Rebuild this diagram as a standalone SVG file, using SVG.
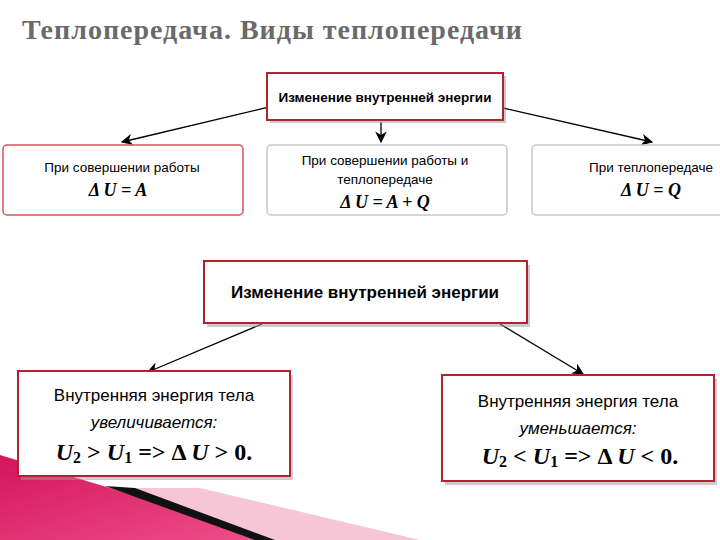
<svg xmlns="http://www.w3.org/2000/svg" width="720" height="540" viewBox="0 0 720 540">
<defs>
<style>
.b{fill:#fff;stroke:#b0232f;stroke-width:2}
.g{fill:#fff;stroke:#c8c8c8;stroke-width:1.5}
.s{fill:#999;opacity:.5}
.t{font-family:"Liberation Sans",Arial,sans-serif;fill:#000;text-anchor:middle}
.f{font-family:"Liberation Serif","Times New Roman",serif;font-weight:bold;font-style:italic;text-anchor:middle}
.n{font-style:normal}
.c{stroke:#000;stroke-width:1.3;fill:none;marker-end:url(#a)}
</style>
<marker id="a" viewBox="0 0 10 10" refX="9" refY="5" markerWidth="9" markerHeight="9" orient="auto"><path d="M0,0 L10,5 L0,10 L3,5 Z" fill="#000"/></marker>
<linearGradient id="pk" x1="0" y1="0" x2="1" y2="1"><stop offset="0" stop-color="#d4145a"/><stop offset="1" stop-color="#ee4f8a"/></linearGradient>
</defs>
<rect width="720" height="540" fill="#fff"/>
<polygon points="120,488 200,488 420,540 260,540" fill="#f7c6d6"/>
<polygon points="0,455 110,488 270,540 0,540" fill="url(#pk)"/>
<polygon points="105,486 135,488 275,540 255,540" fill="#111"/>
<text x="22" y="39" font-family="Liberation Serif,serif" font-weight="bold" font-size="28" letter-spacing="1" fill="#6a6a6a">Теплопередача. Виды теплопередачи</text>
<g id="connectors">
<line class="c" x1="290" y1="102" x2="122" y2="142"/>
<line class="c" x1="381" y1="122" x2="381" y2="142"/>
<line class="c" x1="503" y1="108" x2="652" y2="142"/>
<line class="c" x1="262" y1="324" x2="148" y2="372"/>
<line class="c" x1="500" y1="324" x2="583" y2="374"/>
</g>
<g id="top">
<rect class="s" x="270" y="76" width="236" height="47"/>
<rect class="b" x="267" y="73" width="236" height="47"/>
<text class="t" x="385" y="102" font-size="13.5" font-weight="bold">Изменение внутренней энергии</text>
</g>
<g id="work">
<rect x="3" y="145" width="240" height="70" rx="4" fill="#fff" stroke="#d9505a" stroke-width="1.5"/>
<text class="t" x="122" y="172" font-size="13.5">При совершении работы</text>
<text class="f" x="118" y="196" font-size="18">Δ U = A</text>
</g>
<g id="both">
<rect class="g" x="267" y="145" width="240" height="70" rx="4"/>
<text class="t" x="385" y="165" font-size="13.5">При совершении работы и</text>
<text class="t" x="385" y="184" font-size="13.5">теплопередаче</text>
<text class="f" x="385" y="208" font-size="18">Δ U = A + Q</text>
</g>
<g id="heat">
<rect class="g" x="532" y="145" width="200" height="70" rx="4"/>
<text class="t" x="651" y="172" font-size="13.5">При теплопередаче</text>
<text class="f" x="651" y="196" font-size="18">Δ U = Q</text>
</g>
<g id="main2">
<rect class="s" x="207" y="265" width="323" height="62"/>
<rect class="b" x="204" y="261" width="323" height="62"/>
<text class="t" x="365" y="298" font-size="17" font-weight="bold">Изменение внутренней энергии</text>
</g>
<g id="inc">
<rect class="s" x="21" y="375" width="272" height="105"/>
<rect class="b" x="18" y="371" width="272" height="105"/>
<text class="t" x="154" y="401" font-size="17">Внутренняя энергия тела</text>
<text class="t" x="154" y="428" font-size="17" font-style="italic">увеличивается:</text>
<text class="f" x="154" y="460" font-size="24">U<tspan class="n" font-size="16" dy="3">2</tspan><tspan class="n" dy="-3"> &gt; </tspan>U<tspan class="n" font-size="16" dy="3">1</tspan><tspan class="n" dy="-3"> =&gt; Δ </tspan>U<tspan class="n"> &gt; 0.</tspan></text>
</g>
<g id="dec">
<rect class="s" x="445" y="379" width="272" height="106"/>
<rect class="b" x="442" y="375" width="272" height="106"/>
<text class="t" x="578" y="407" font-size="17">Внутренняя энергия тела</text>
<text class="t" x="578" y="434" font-size="17" font-style="italic">уменьшается:</text>
<text class="f" x="580" y="464" font-size="24">U<tspan class="n" font-size="16" dy="3">2</tspan><tspan class="n" dy="-3"> &lt; </tspan>U<tspan class="n" font-size="16" dy="3">1</tspan><tspan class="n" dy="-3"> =&gt; Δ </tspan>U<tspan class="n"> &lt; 0.</tspan></text>
</g>
</svg>
